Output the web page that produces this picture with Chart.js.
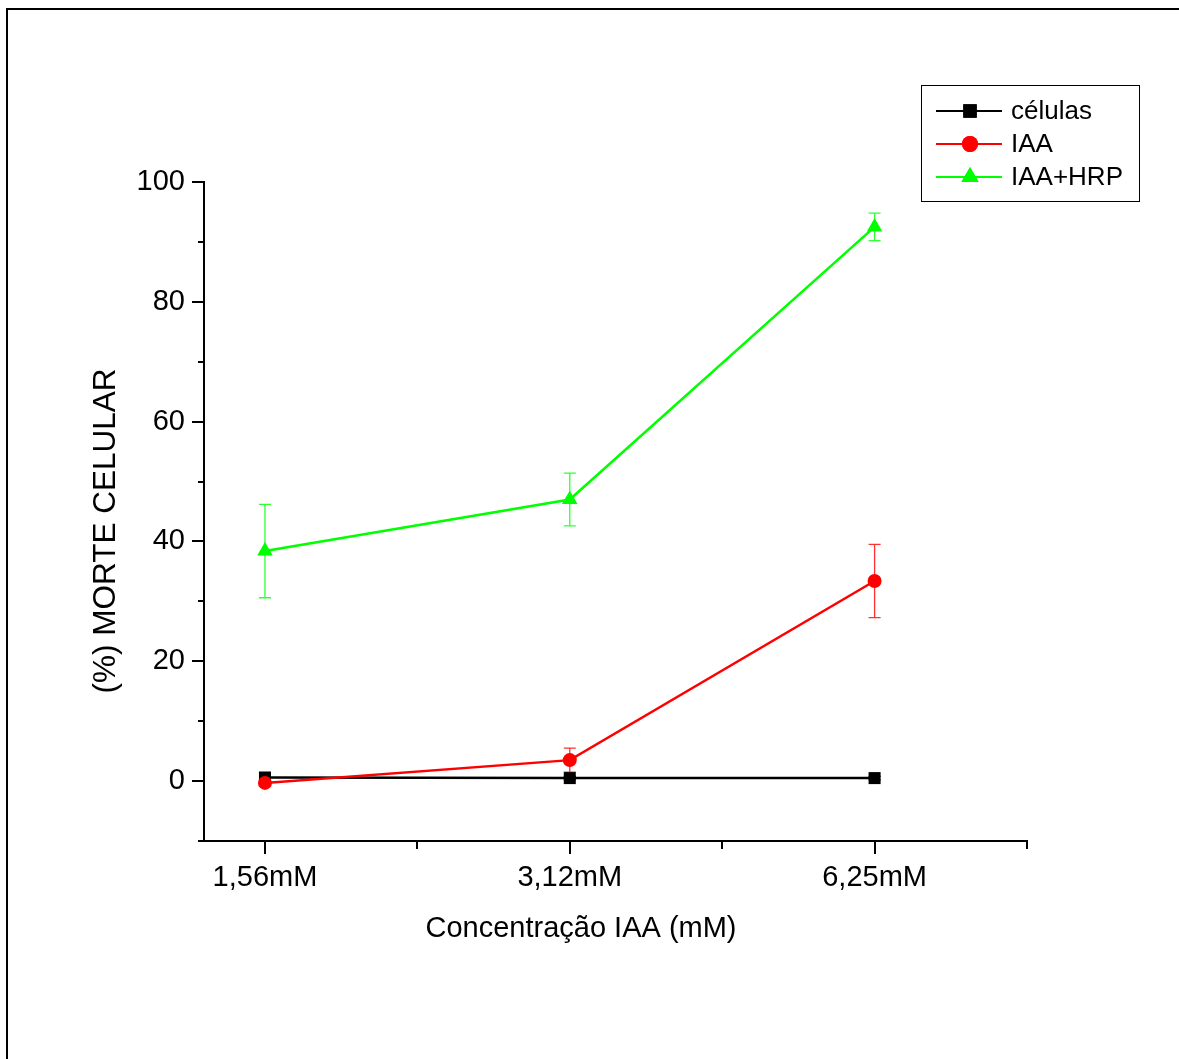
<!DOCTYPE html>
<html>
<head>
<meta charset="utf-8">
<script src="https://cdn.jsdelivr.net/npm/chart.js@4.4.0/dist/chart.umd.min.js"></script>
<style>
    html, body { margin: 0; padding: 0; background: #fff; }
    #wrap { position: relative; width: 1179px; height: 1059px; overflow: hidden; }
    #frame { position: absolute; left: 6px; top: 8px; right: 0; bottom: 0; border-top: 2px solid #000; border-left: 2px solid #000; }
    #chart { position: absolute; left: 0; top: 0; }
</style>
</head>
<body>
<div id="wrap">
    <div id="frame"></div>
    <canvas id="chart" width="1179" height="1059"></canvas>
</div>
<script>
// Datos
const categories = ['1,56mM', '3,12mM', '6,25mM'];
const xPositions = [1, 2, 3];
const celulas = [0.6, 0.5, 0.5];
const celulasErr = [0.8, 0.3, 0.3];
const iaa = [-0.3, 3.5, 33.4];
const iaaErr = [0.4, 2.0, 6.1];
const iaaHrp = [38.4, 47.0, 92.5];
const iaaHrpErr = [7.8, 4.4, 2.3];

// Marcas de los ejes
const xMajorTicks = [1, 2, 3];
const xMinorTicks = [1.5, 2.5, 3.5];
const yTickLabels = [0, 20, 40, 60, 80, 100];
const yMinorTicks = [-10, 10, 30, 50, 70, 90];

const FONT = "'Liberation Sans', Arial, sans-serif";

function toPoints(values) {
    return values.map((v, i) => ({ x: xPositions[i], y: v }));
}

// Plugin: barras de error, marcas de ejes, títulos y leyenda
const extras = {
    id: 'extras',
    beforeDatasetsDraw(chart) {
        const ctx = chart.ctx;
        const xs = chart.scales.x, ys = chart.scales.y;
        ctx.save();
        chart.data.datasets.forEach(ds => {
            ctx.strokeStyle = ds.errColor;
            ctx.lineWidth = 1.3;
            ds.data.forEach((p, i) => {
                const px = xs.getPixelForValue(p.x);
                const top = ys.getPixelForValue(p.y + ds.err[i]);
                const bot = ys.getPixelForValue(p.y - ds.err[i]);
                ctx.beginPath();
                ctx.moveTo(px, top); ctx.lineTo(px, bot);
                ctx.moveTo(px - 6, top); ctx.lineTo(px + 6, top);
                ctx.moveTo(px - 6, bot); ctx.lineTo(px + 6, bot);
                ctx.stroke();
            });
        });
        ctx.restore();
    },
    afterDraw(chart) {
        const ctx = chart.ctx;
        const xs = chart.scales.x, ys = chart.scales.y;
        const area = chart.chartArea;
        ctx.save();
        ctx.strokeStyle = '#000';
        ctx.lineWidth = 2;
        ctx.beginPath();
        xMajorTicks.forEach(v => {
            const px = Math.round(xs.getPixelForValue(v));
            ctx.moveTo(px, area.bottom); ctx.lineTo(px, area.bottom + 13);
        });
        xMinorTicks.forEach(v => {
            const px = Math.round(xs.getPixelForValue(v));
            ctx.moveTo(px, area.bottom); ctx.lineTo(px, area.bottom + 8);
        });
        yTickLabels.forEach(v => {
            const py = Math.round(ys.getPixelForValue(v));
            ctx.moveTo(area.left, py); ctx.lineTo(area.left - 12, py);
        });
        yMinorTicks.forEach(v => {
            const py = Math.round(ys.getPixelForValue(v));
            ctx.moveTo(area.left, py); ctx.lineTo(area.left - 6, py);
        });
        ctx.stroke();

        // Títulos de ejes
        ctx.fillStyle = '#000';
        ctx.textAlign = 'center';
        ctx.textBaseline = 'middle';
        ctx.font = '29px ' + FONT;
        ctx.fillText('Concentração IAA (mM)', 581, 929);
        ctx.translate(106, 531);
        ctx.rotate(-Math.PI / 2);
        ctx.font = '31.5px ' + FONT;
        ctx.fillText('(%) MORTE CELULAR', 0, 0);
        ctx.restore();

        // Leyenda
        ctx.save();
        ctx.strokeStyle = '#000';
        ctx.lineWidth = 1;
        ctx.strokeRect(921.5, 85.5, 218, 116);
        const rowY = [111, 144, 177];
        ctx.font = '26px ' + FONT;
        ctx.textAlign = 'left';
        ctx.textBaseline = 'middle';
        chart.data.datasets.forEach((ds, i) => {
            const y = rowY[i];
            ctx.strokeStyle = ds.borderColor;
            ctx.lineWidth = 2;
            ctx.beginPath();
            ctx.moveTo(936, y); ctx.lineTo(1002, y);
            ctx.stroke();
            ctx.fillStyle = ds.borderColor;
            Chart.helpers.drawPoint(ctx, {
                pointStyle: ds.pointStyle, radius: ds.pointRadius + 1, rotation: 0, borderWidth: 0
            }, 970, y);
            ctx.fill();
            ctx.fillStyle = '#000';
            ctx.fillText(ds.label, 1011, y + 1);
        });
        ctx.restore();
    }
};

const ctx = document.getElementById('chart').getContext('2d');
const chart = new Chart(ctx, {
    type: 'line',
    data: {
        datasets: [
            {
                label: 'células',
                data: toPoints(celulas),
                err: celulasErr,
                errColor: '#000000',
                borderColor: '#000000',
                backgroundColor: '#000000',
                pointStyle: 'rect',
                pointRadius: 8.5,
                borderWidth: 2.5,
                pointBorderWidth: 0,
                order: 3
            },
            {
                label: 'IAA',
                data: toPoints(iaa),
                err: iaaErr,
                errColor: '#ff3030',
                borderColor: '#ff0000',
                backgroundColor: '#ff0000',
                pointStyle: 'circle',
                pointRadius: 7,
                borderWidth: 2.5,
                pointBorderWidth: 0,
                order: 2
            },
            {
                label: 'IAA+HRP',
                data: toPoints(iaaHrp),
                err: iaaHrpErr,
                errColor: '#30ff30',
                borderColor: '#00ff00',
                backgroundColor: '#00ff00',
                pointStyle: 'triangle',
                pointRadius: 9,
                borderWidth: 2.5,
                pointBorderWidth: 0,
                order: 1
            }
        ]
    },
    options: {
        responsive: false,
        animation: false,
        devicePixelRatio: 1,
        layout: { padding: { left: 0, top: 182, right: 152, bottom: 0 } },
        plugins: {
            legend: { display: false },
            tooltip: { enabled: false }
        },
        scales: {
            x: {
                type: 'linear',
                min: 0.8,
                max: 3.5,
                afterBuildTicks: scale => {
                    scale.ticks = xMajorTicks.map(v => ({ value: v }));
                },
                afterFit: scale => { scale.height = 218; },
                grid: { display: false },
                border: { display: true, color: '#000', width: 2 },
                ticks: {
                    autoSkip: false,
                    maxRotation: 0,
                    padding: 12,
                    color: '#000',
                    font: { family: FONT, size: 29 },
                    callback: v => categories[xPositions.indexOf(v)]
                }
            },
            y: {
                min: -10,
                max: 100,
                afterBuildTicks: scale => {
                    scale.ticks = yTickLabels.map(v => ({ value: v }));
                },
                afterFit: scale => { scale.width = 204; },
                grid: { display: false },
                border: { display: true, color: '#000', width: 2 },
                ticks: {
                    autoSkip: false,
                    padding: 11,
                    color: '#000',
                    font: { family: FONT, size: 29 }
                }
            }
        }
    },
    plugins: [extras]
});
</script>
</body>
</html>
